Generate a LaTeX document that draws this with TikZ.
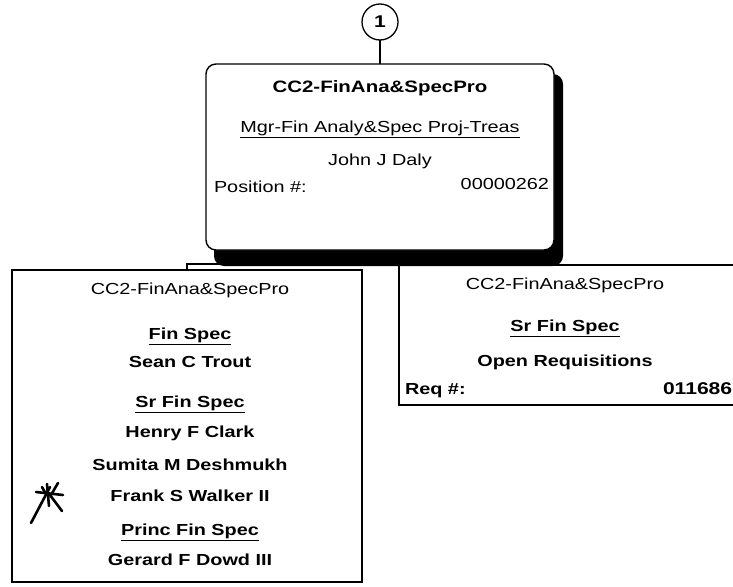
\documentclass[tikz,border=0pt]{standalone}
\usepackage{fontspec}
\setmainfont{Liberation Sans}[FakeStretch=1.24]
\begin{document}
\begin{tikzpicture}[x=1pt,y=-1pt,
  every node/.style={inner sep=0pt, outer sep=0pt},
  card/.style={draw, line width=1.4pt, fill=white},
  rg/.style={font=\fontsize{16}{18}\selectfont},
  bd/.style={font=\fontsize{16}{18}\selectfont\bfseries},
  hd/.style={font=\fontsize{16.5}{18}\selectfont\bfseries},
  link/.style={line width=1.2pt}]
\useasboundingbox (0,0) rectangle (733,586);
\clip (0,0) rectangle (733,586);

% position bubble
\node[draw, circle, line width=1.3pt, minimum size=36pt,
      font=\fontsize{17}{17}\selectfont\bfseries] (num) at (380,22) {1};

% child cards
\node[card, minimum width=350pt, minimum height=312pt] (left) at (187,426) {};
\node[card, minimum width=401pt, minimum height=140pt] (right) at (599.5,335) {};
\coordinate (rin) at (566,265);

% manager card geometry (drawn after the bus so its shadow covers it)
\path (380,157) node[minimum width=348pt, minimum height=186pt] (top) {};

% reporting lines
\draw[link] (num.south) -- (top.north);
\draw[link] (top.south) -- ++(0,14) -| (left.north);
\draw[link] (top.south) |- (rin);

% manager card with drop shadow
\fill[black, rounded corners=10pt] (214,74) rectangle (563,266);
\node[card, rounded corners=10pt,
      minimum width=348pt, minimum height=186pt] at (top) {};

\node[hd] (t1) at (380,88) {CC2-FinAna\&SpecPro};
\node[rg] (t2) at (380,129) {\underline{Mgr-Fin Analy\&Spec Proj-Treas}};
\node[rg] (t3) at (380,161) {John J Daly};
\node[rg, anchor=west] (t4) at (214,187) {Position \#:};
\node[rg, anchor=east] (t5) at (549,184) {00000262};

% left card
\node[rg] (l1) at (190,290) {CC2-FinAna\&SpecPro};
\node[bd] (l2) at (190,336) {\underline{Fin Spec}};
\node[bd] (l3) at (190,362) {Sean C Trout};
\node[bd] (l4) at (190,404) {\underline{Sr Fin Spec}};
\node[bd] (l5) at (190,433) {Henry F Clark};
\node[bd] (l6) at (190,465) {Sumita M Deshmukh};
\node[bd] (l7) at (190,496) {Frank S Walker II};
\node[bd] (l8) at (190,532) {\underline{Princ Fin Spec}};
\node[bd] (l9) at (190,560) {Gerard F Dowd III};

% hand-drawn mark beside Frank S Walker II
\begin{scope}[line width=2.6pt, line cap=round]
  \draw (36,492) -- (63,495);
  \draw (50,487) -- (31,523);
  \draw (47,484) -- (49,506);
  \draw (58,483) -- (51,495);
  \draw (50,495) -- (62,511);
  \draw (42,487) -- (46,494);
\end{scope}

% right card
\node[rg] (r1) at (565,285) {CC2-FinAna\&SpecPro};
\node[bd] (r2) at (565,328) {\underline{Sr Fin Spec}};
\node[bd] (r3) at (565,362) {Open Requisitions};
\node[bd, anchor=west] (r4) at (405,391) {Req \#:};
\node[font=\fontsize{17}{18}\selectfont\bfseries, anchor=west] (r5) at (663,389) {011686};
\end{tikzpicture}
\end{document}
